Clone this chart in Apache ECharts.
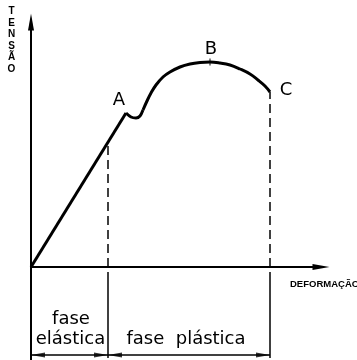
<!DOCTYPE html>
<html>
<head>
<meta charset="utf-8">
<script src="https://cdn.jsdelivr.net/npm/echarts@6/dist/echarts.min.js"></script>
<style>
html,body{margin:0;padding:0;background:#fff;}
#chart{width:357px;height:360px;}
</style>
</head>
<body>
<div id="chart"></div>
<script>
// Data (deformação, tensão) in arbitrary units
var elasticCurve = [[0, 0], [95, 154]];
var yieldWiggle = [[95, 154], [100, 150], [105, 149], [109, 151], [112, 157]];
var plasticCurve = [[112, 157], [116, 166], [120, 174], [125, 182], [132, 190], [139, 195], [149, 200], [159, 203], [169, 204.5], [179, 205], [189, 204], [199, 202], [209, 198], [219, 193], [227, 187], [234, 181], [239, 175]];
var peakTick = [[179, 205]];
var dashedGuides = [[[77, 0], [77, 125]], [[239, 0], [239, 175]]];
var extensionLines = [[[77, -5], [77, -91]], [[239, -5], [239, -91]]];
var dimensionLines = [[[0, -88], [239, -88]]];
var arrowsLeft = [[0, -88], [77, -88]];
var arrowsRight = [[77, -88], [239, -88]];
var pointLabels = ['A', 'B', 'C'];
var phaseLabels = ['fase', 'elástica', 'fase  plástica'];
var axisNames = ['TENSÃO', 'DEFORMAÇÃO'];

var chart = echarts.init(document.getElementById('chart'), null, {renderer: 'canvas'});
var black = '#000';
var bigFont = {fontFamily: '"DejaVu Sans"', fontSize: 18, fill: black};

function txt(text, x, y, extra) {
  var s = Object.assign({text: text, x: x, y: y, align: 'center', verticalAlign: 'middle'}, bigFont, extra || {});
  return {type: 'text', silent: true, style: s};
}

var option = {
  animation: false,
  backgroundColor: '#fff',
  grid: {left: 31, top: 22, right: 36, bottom: 0, containLabel: false},
  xAxis: {
    type: 'value', min: 0, max: 290,
    axisLine: {show: true, onZero: true, lineStyle: {color: black, width: 2}, symbol: ['none', 'triangle'], symbolSize: [6, 17]},
    axisTick: {show: false}, axisLabel: {show: false}, splitLine: {show: false}
  },
  yAxis: {
    type: 'value', min: -93, max: 245,
    axisLine: {show: true, lineStyle: {color: black, width: 2}, symbol: ['none', 'triangle'], symbolSize: [6, 17]},
    axisTick: {show: false}, axisLabel: {show: false}, splitLine: {show: false}
  },
  series: [
    {type: 'line', data: elasticCurve, symbol: 'none', silent: true, lineStyle: {color: black, width: 3}},
    {type: 'line', data: yieldWiggle, symbol: 'none', smooth: 0.3, silent: true, lineStyle: {color: black, width: 3}},
    {type: 'line', data: plasticCurve, symbol: 'none', smooth: 0.4, silent: true, lineStyle: {color: black, width: 3}},
    {type: 'scatter', silent: true, data: peakTick, symbol: 'rect', symbolSize: [1.2, 7], itemStyle: {color: black}},
    {type: 'lines', coordinateSystem: 'cartesian2d', silent: true,
      data: dashedGuides.map(function (c) { return {coords: c}; }),
      lineStyle: {color: black, width: 1.5, type: [9, 5], opacity: 1}},
    {type: 'lines', coordinateSystem: 'cartesian2d', silent: true,
      data: extensionLines.concat(dimensionLines).map(function (c) { return {coords: c}; }),
      lineStyle: {color: black, width: 1.5, type: 'solid', opacity: 1}},
    {type: 'scatter', silent: true, data: arrowsLeft,
      symbol: 'path://M0,3 L14,0 L14,6 Z', symbolSize: [14, 5], symbolOffset: [7, 0],
      itemStyle: {color: black}},
    {type: 'scatter', silent: true, data: arrowsRight,
      symbol: 'path://M14,3 L0,0 L0,6 Z', symbolSize: [14, 5], symbolOffset: [-7, 0],
      itemStyle: {color: black}}
  ],
  graphic: [
    txt(axisNames[0].split('').join('\n'), 11.5, 5.5, {fontFamily: '"Liberation Sans"', fontWeight: 'bold', fontSize: 10, verticalAlign: 'top', lineHeight: 11.6}),
    txt(axisNames[1], 290, 284, {fontFamily: '"Liberation Sans"', fontWeight: 'bold', fontSize: 9.5, align: 'left'}),
    txt(pointLabels[0], 119, 100),
    txt(pointLabels[1], 211, 49),
    txt(pointLabels[2], 286, 90),
    txt(phaseLabels[0], 71, 319.6),
    txt(phaseLabels[1], 70.5, 339.6),
    txt(phaseLabels[2], 186, 339.6)
  ]
};
chart.setOption(option);
</script>
</body>
</html>
